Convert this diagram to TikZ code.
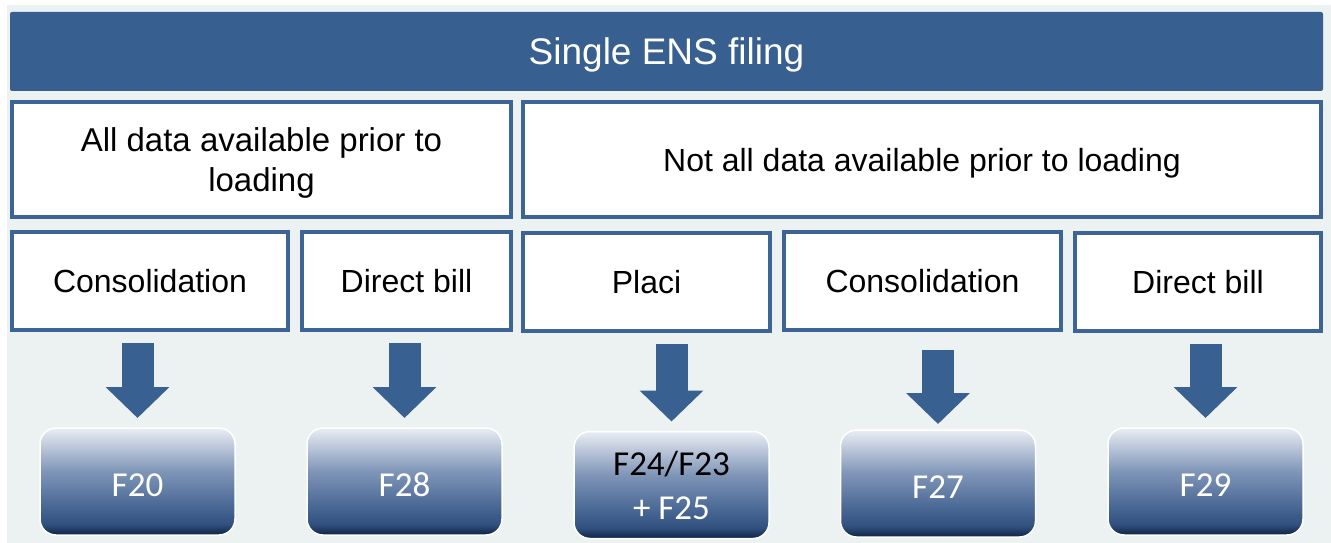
\documentclass[tikz,border=0pt]{standalone}
\usepackage{fontspec}
\setmainfont{Liberation Sans}
\newfontfamily\calib{Carlito}
\usetikzlibrary{arrows.meta}
\definecolor{bgc}{HTML}{ECF1F1}
\definecolor{hdr}{HTML}{375F8F}
\definecolor{brd}{HTML}{3C6494}
\definecolor{arr}{HTML}{386090}
\definecolor{fbot}{HTML}{0E2346}
\definecolor{fdark}{HTML}{30507E}
\definecolor{fmid2}{HTML}{4E6C98}
\definecolor{fmid}{HTML}{8096B8}
\definecolor{ftop}{HTML}{EAEDF4}
\pgfdeclareverticalshading{fshade}{100bp}{color(0bp)=(fbot); color(25bp)=(fbot); color(30bp)=(fdark); color(40bp)=(fmid2); color(55bp)=(fmid); color(75bp)=(ftop); color(100bp)=(ftop)}
\tikzset{
  hdrbox/.style={fill=hdr, rounded corners=2pt, inner sep=0pt, outer sep=0pt, text=white, text depth=0pt, font=\fontsize{37}{44}\selectfont},
  wbox/.style={draw=brd, line width=4pt, fill=white, inner sep=0pt, outer sep=0pt, minimum height=#1, align=center, text depth=0pt, font=\fontsize{32}{40}\selectfont},
  fbox/.style={draw=white, line width=1.5pt, shading=fshade, rounded corners=16pt, minimum width=195pt, minimum height=107pt, inner sep=0pt, outer sep=0pt, align=center, text=white, font=\calib\fontsize{35}{44}\selectfont},
  onel/.style={text height=30pt, text depth=0pt},
  bigarrow/.style={draw=arr, line width=32pt, -{Triangle[width=62pt,length=31pt]}, shorten <=13pt, shorten >=10pt}
}
\begin{document}
\begin{tikzpicture}[x=1pt,y=-1pt]
\useasboundingbox (0,0) rectangle (1331,543);
\fill[bgc] (7,5) rectangle (1331,543);
\node[hdrbox, minimum width=1313pt, minimum height=79pt] (hdr) at (666.5,51.5) {Single ENS filing};
\node[wbox=115pt, minimum width=499pt, font=\fontsize{33}{40}\selectfont] (all) at (261.5,159.5) {All data available prior to\\loading};
\node[wbox=115pt, minimum width=798pt] (notall) at (922,159.5) {Not all data available prior to loading};
\node[wbox=98pt, minimum width=276pt] (c1) at (150,281) {Consolidation};
\node[wbox=98pt, minimum width=209pt] (d1) at (406.5,281) {Direct bill};
\node[wbox=98pt, minimum width=247pt] (pl) at (646.5,282) {Placi};
\node[wbox=98pt, minimum width=277pt] (c2) at (922.5,281) {Consolidation};
\node[wbox=98pt, minimum width=246pt] (d2) at (1198,282) {Direct bill};
\node[fbox, onel] (f20) at (137.5,481.5) {F20};
\node[fbox, onel] (f28) at (404.5,481.5) {F28};
\node[fbox] (f24) at (671.5,485) {\textcolor{black}{F24/F23}\\+ F25};
\node[fbox, onel] (f27) at (938,483.5) {F27};
\node[fbox, onel] (f29) at (1205.5,481.5) {F29};
\draw[bigarrow] (f20.north |- c1.south) -- (f20.north);
\draw[bigarrow] (f28.north |- d1.south) -- (f28.north);
\draw[bigarrow] (f24.north |- pl.south) -- (f24.north);
\draw[bigarrow, shorten <=20pt, shorten >=6pt] (f27.north |- c2.south) -- (f27.north);
\draw[bigarrow] (f29.north |- d2.south) -- (f29.north);
\end{tikzpicture}
\end{document}
